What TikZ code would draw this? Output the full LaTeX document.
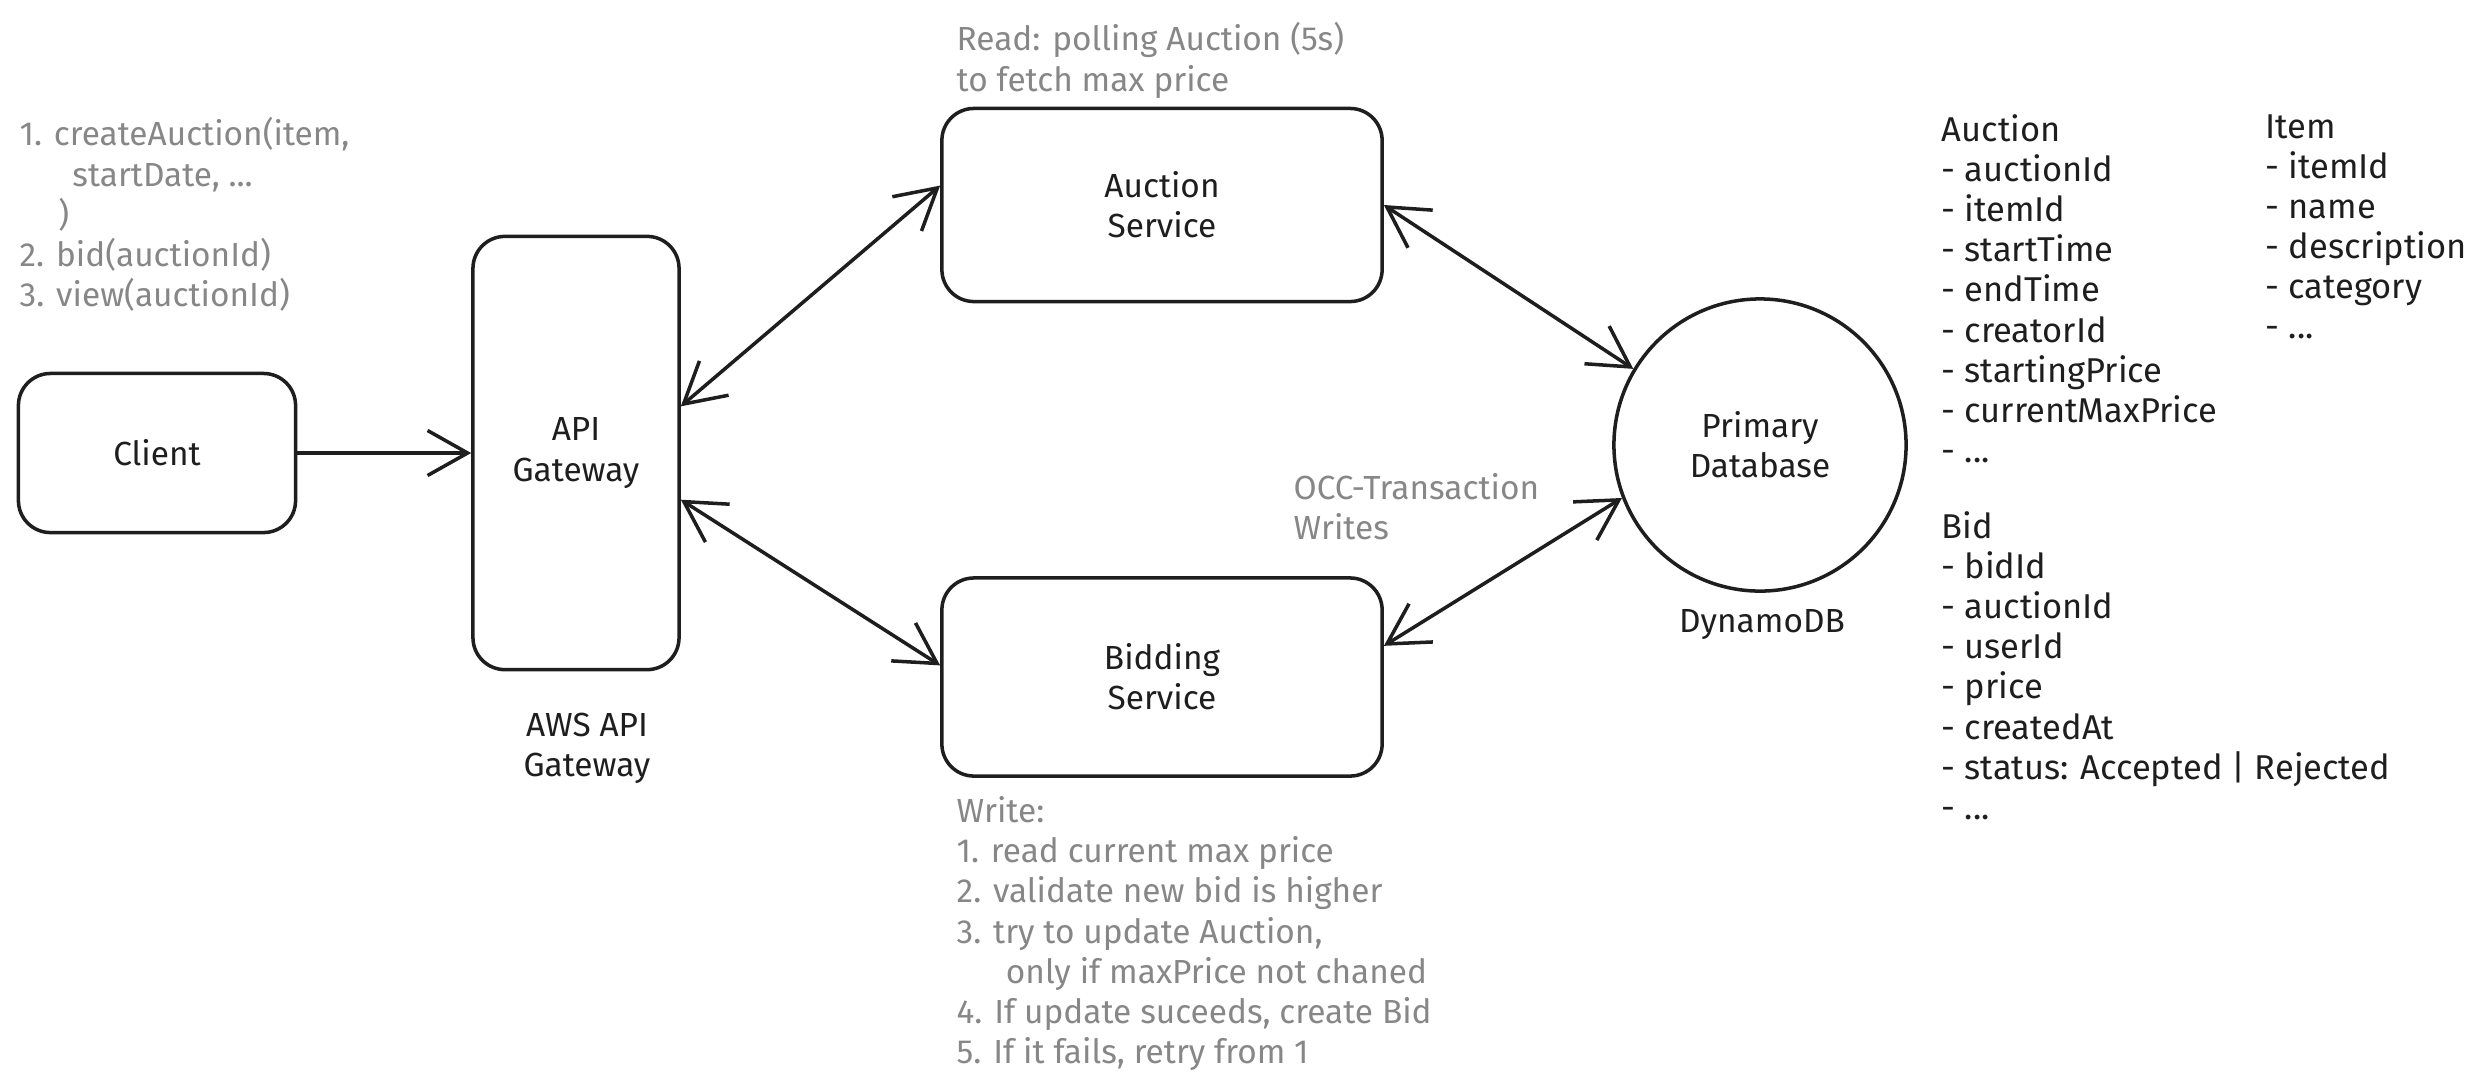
\documentclass[tikz,border=0pt]{standalone}
\usepackage{fontspec}
\setmainfont{Fira Sans}
\usetikzlibrary{arrows.meta}
\definecolor{aucInk}{HTML}{1E1E1E}
\definecolor{aucGray}{HTML}{878787}
\newcommand{\aucfont}{\fontsize{9.5}{11.4}\selectfont}
\newcommand{\aucschemafont}{\fontsize{9.8}{11.4}\selectfont}
\tikzset{
  auc box/.style={draw=aucInk, line width=1pt, rounded corners=3.2mm, align=center, font=\aucfont, text=aucInk},
  auc db/.style={circle, draw=aucInk, line width=1pt, minimum size=2.92cm, inner sep=0pt, align=center, font=\aucfont, text=aucInk},
  auc arrow/.style={draw=aucInk, line width=1pt},
  auc tip/.style={-{Straight Barb[length=4mm,width=4.5mm]}},
  auc tips/.style={{Straight Barb[length=4mm,width=4.5mm]}-{Straight Barb[length=4mm,width=4.5mm]}},
  auc note/.style={font=\aucfont, text=aucGray, align=left, anchor=north west, inner sep=0pt},
  auc label/.style={font=\aucfont, text=aucInk, align=center},
  auc schema/.style={font=\aucschemafont, text=aucInk, align=left, anchor=north west, inner sep=0pt},
}
\begin{document}
\begin{tikzpicture}[x=0.01cm,y=-0.01cm]
\useasboundingbox (0,0) rectangle (2482,1090);
\node[auc box,minimum width=2.77cm,minimum height=1.59cm](client)at(157,453){Client};
\node[auc box,minimum width=2.06cm,minimum height=4.33cm](gw)at(576,453){API\\Gateway};
\node[auc box,minimum width=4.4cm,minimum height=1.93cm](auction)at(1162,205){Auction\\Service};
\node[auc box,minimum width=4.4cm,minimum height=1.98cm](bidding)at(1162,677){Bidding\\Service};
\node[auc db](db)at(1760,445){Primary\\Database};
\node[auc label](awslbl)at(587,748){AWS API\\Gateway};
\node[auc label](dynamolbl)at(1762,625){DynamoDB};
\draw[auc arrow,auc tip](client)--(gw);
\foreach \a/\b in {gw.24/auction.175,gw.-24/bidding.177,auction.east/db.149,bidding.8/db.201}{\draw[auc arrow,auc tips](\a)--(\b);}
\node[auc note](clientnote)at(19,117){1. createAuction(item,\\\hspace*{15pt}startDate, ...\\\hspace*{11pt})\\2. bid(auctionId)\\3. view(auctionId)};
\node[auc note](readnote)at(956,22){Read: polling Auction (5s)\\to fetch max price};
\node[auc note](occnote)at(1293,473){OCC-Transaction\\Writes};
\node[auc note](writenote)at(956,796){Write:\\1. read current max price\\2. validate new bid is higher\\3. try to update Auction,\\\hspace*{14pt}only if maxPrice not chaned\\4. If update suceeds, create Bid\\5. If it fails, retry from 1};
\node[auc schema](auctionschema)at(1941,114){Auction\\- auctionId\\- itemId\\- startTime\\- endTime\\- creatorId\\- startingPrice\\- currentMaxPrice\\- ...};
\node[auc schema](itemschema)at(2265,114){Item\\- itemId\\- name\\- description\\- category\\- ...};
\node[auc schema](bidschema)at(1941,511){Bid\\- bidId\\- auctionId\\- userId\\- price\\- createdAt\\- status: Accepted | Rejected\\- ...};
\end{tikzpicture}
\end{document}
